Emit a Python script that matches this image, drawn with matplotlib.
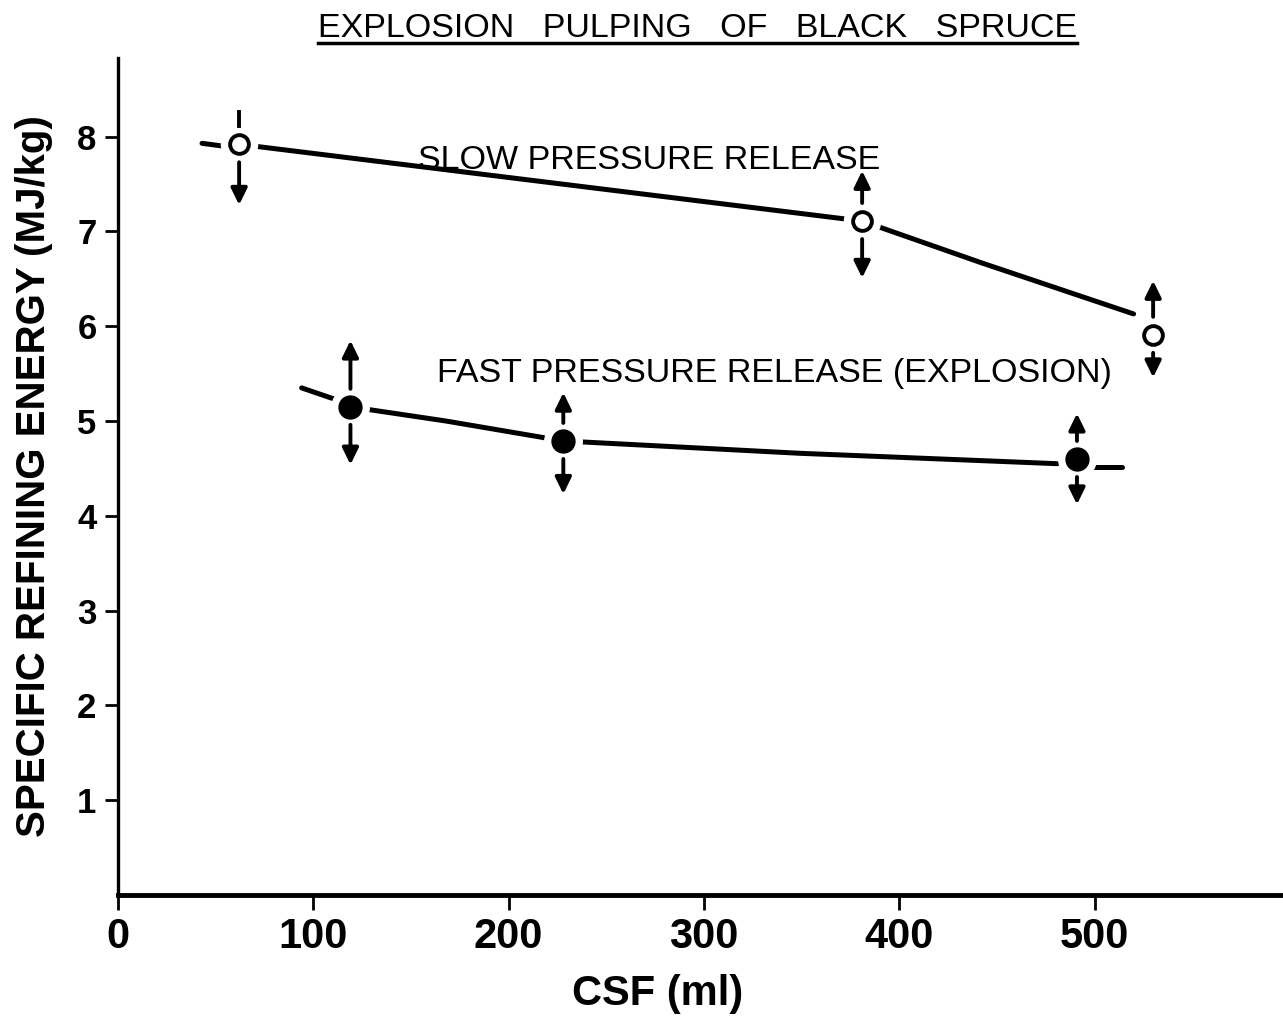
import matplotlib
matplotlib.use("Agg")
import matplotlib.pyplot as plt
from matplotlib.lines import Line2D

plt.rcParams['font.family'] = ['Liberation Sans', 'DejaVu Sans']

# points: CSF (ml) vs specific refining energy (MJ/kg)
slow_csf = [62, 381, 530]
slow_energy = [7.92, 7.11, 5.91]
slow_top = [8.26, 7.64, 6.48]      # end of upper range mark
slow_bottom = [7.28, 6.51, 5.46]   # end of lower range mark
slow_top_head = [False, True, True]

fast_csf = [119, 228, 491]
fast_energy = [5.15, 4.79, 4.60]
fast_top = [5.85, 5.30, 5.08]
fast_bottom = [4.54, 4.23, 4.12]

# the hand drawn curves
slow_curve_x = [62, 381, 442, 520]
slow_curve_y = [7.92, 7.11, 6.67, 6.13]
slow_dash_x = [43, 54]
slow_dash_y = [7.93, 7.90]

fast_curve_x = [119, 168, 228, 349, 481]
fast_curve_y = [5.15, 5.00, 4.79, 4.66, 4.55]
fast_dash_x = [[94, 111], [499, 514]]
fast_dash_y = [[5.35, 5.23], [4.52, 4.52]]

x_ticks = [0, 100, 200, 300, 400, 500]
y_ticks = [1, 2, 3, 4, 5, 6, 7, 8]

fig = plt.figure(figsize=(12.83, 10.16), dpi=100)
ax = fig.add_axes([0.092, 0.1191, 0.908, 0.8238])
ax.set_xlim(0, 596.5)
ax.set_ylim(0, 8.83)

lw = 3.6
gap = 0.19  # range marks start a little away from the symbol

# curves
ax.plot(slow_curve_x, slow_curve_y, color='k', lw=lw, solid_capstyle='round',
        solid_joinstyle='round', zorder=2)
ax.plot(slow_dash_x, slow_dash_y, color='k', lw=lw, solid_capstyle='round', zorder=2)
ax.plot(fast_curve_x, fast_curve_y, color='k', lw=lw, solid_capstyle='round',
        solid_joinstyle='round', zorder=2)
for dx, dy in zip(fast_dash_x, fast_dash_y):
    ax.plot(dx, dy, color='k', lw=lw, solid_capstyle='round', zorder=2)

# white halo so the lines stop short of the symbols
ax.plot(slow_csf, slow_energy, 'o', ms=26, color='white', zorder=3)
ax.plot(fast_csf, fast_energy, 'o', ms=27, color='white', zorder=3)

ax.plot(slow_csf, slow_energy, 'o', ms=13.5, mfc='white', mec='k', mew=2.8, zorder=4)
ax.plot(fast_csf, fast_energy, 'o', ms=16.5, mfc='k', mec='k', zorder=4)

arrow = dict(arrowstyle='-|>,head_length=0.45,head_width=0.22', lw=2.8,
             color='k', shrinkA=0, shrinkB=0, mutation_scale=22)

def range_marks(xs, ys, tops, bottoms, heads=None):
    for i, (x, y, t, b) in enumerate(zip(xs, ys, tops, bottoms)):
        if heads is not None and not heads[i]:
            ax.plot([x, x], [y + gap, t], color='k', lw=2.8, zorder=3.5)
        else:
            ax.annotate('', xy=(x, t), xytext=(x, y + gap), arrowprops=arrow, zorder=3.5)
        ax.annotate('', xy=(x, b), xytext=(x, y - gap), arrowprops=arrow, zorder=3.5)

range_marks(slow_csf, slow_energy, slow_top, slow_bottom, slow_top_head)
range_marks(fast_csf, fast_energy, fast_top, fast_bottom)

ax.text(153.6, 7.66, 'SLOW PRESSURE RELEASE', fontsize=24.5, ha='left', va='baseline')
ax.text(163.3, 5.41, 'FAST PRESSURE RELEASE (EXPLOSION)', fontsize=24.5, ha='left', va='baseline')

# axes styling
for s in ['top', 'right']:
    ax.spines[s].set_visible(False)
ax.spines['bottom'].set_linewidth(3.5)
ax.spines['left'].set_linewidth(2.4)

ax.set_xticks(x_ticks)
ax.set_xticklabels([str(v) for v in x_ticks], fontsize=30, fontweight='bold')
ax.set_yticks(y_ticks)
ax.set_yticklabels([str(v) for v in y_ticks], fontsize=25, fontweight='bold')
ax.tick_params(axis='x', direction='out', length=11, width=2, pad=5)
ax.tick_params(axis='y', direction='out', length=9.5, width=2, pad=6)

ax.set_xlabel('CSF (ml)', fontsize=30, fontweight='bold')
ax.xaxis.set_label_coords(0.463, -0.094)
ax.set_ylabel('SPECIFIC REFINING ENERGY (MJ/kg)', fontsize=29, fontweight='bold')
ax.yaxis.set_label_coords(-0.056, 0.5)

title = fig.text(0.2479, 0.9636, 'EXPLOSION   PULPING   OF   BLACK   SPRUCE',
                 fontsize=24.5, ha='left', va='baseline')

# underline the title
fig.canvas.draw()
bb = title.get_window_extent().transformed(fig.transFigure.inverted())
fig.add_artist(Line2D([bb.x0, bb.x1], [0.9577, 0.9577], color='k', lw=2.5,
                      transform=fig.transFigure))

fig.savefig('out.png', dpi=100)
